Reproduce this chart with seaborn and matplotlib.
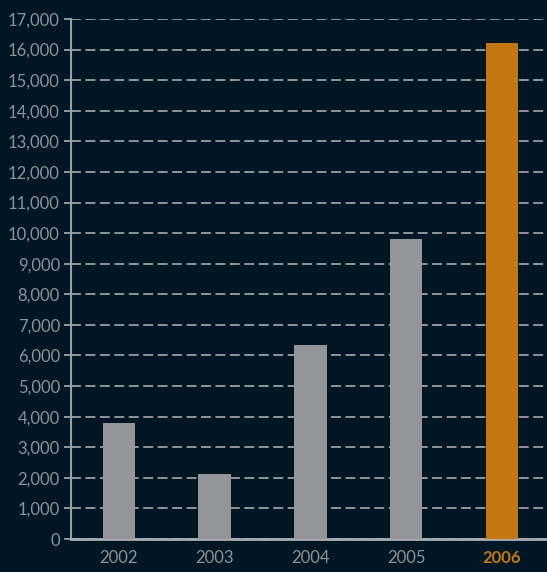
import matplotlib
matplotlib.use("Agg")
import matplotlib.pyplot as plt
import seaborn as sns
import pandas as pd
from matplotlib.ticker import FuncFormatter, MultipleLocator

years = ["2002", "2003", "2004", "2005", "2006"]
values = [3800, 2130, 6350, 9800, 16200]
bar_colors = ["#939598", "#939598", "#939598", "#939598", "#c27812"]

BG = "#011624"
GRID = "#9a9fa4"
TXT = "#8d9399"

df = pd.DataFrame({"year": years, "value": values})

fig = plt.figure(figsize=(5.47, 5.72), dpi=100, facecolor=BG)
ax = fig.add_axes([71/547, 33/572, 1 - 71/547, (539-19)/572])
ax.set_facecolor(BG)

sns.barplot(data=df, x="year", y="value", hue="year", palette=bar_colors,
            legend=False, width=0.34, saturation=1, ax=ax, zorder=3)

ax.set_ylim(0, 17000)
ax.set_xlim(-0.5, 4.47)
ax.yaxis.set_major_locator(MultipleLocator(1000))
ax.yaxis.set_major_formatter(FuncFormatter(lambda v, p: f"{int(v):,}"))
ax.grid(axis="y", color=GRID, linestyle=(0, (5.5, 2.5)), linewidth=1.3, zorder=0)
ax.grid(axis="x", visible=False)
ax.set_axisbelow(True)

for s in ["top", "right"]:
    ax.spines[s].set_visible(False)
ax.spines["left"].set_color(GRID)
ax.spines["left"].set_linewidth(1.5)
ax.spines["bottom"].set_color("#a9adb1")
ax.spines["bottom"].set_linewidth(2)

ax.tick_params(axis="y", length=5, width=1.3, color=GRID, labelcolor=TXT,
               labelsize=12, pad=3)
ax.tick_params(axis="x", length=0, labelcolor=TXT, labelsize=12, pad=8)
for lbl in ax.get_yticklabels() + ax.get_xticklabels():
    lbl.set_family(["Lato", "DejaVu Sans"])
last = ax.get_xticklabels()[-1]
last.set_color("#c27812")
last.set_fontweight("bold")

ax.set_xlabel("")
ax.set_ylabel("")

fig.savefig("out.png", dpi=100, facecolor=BG)
